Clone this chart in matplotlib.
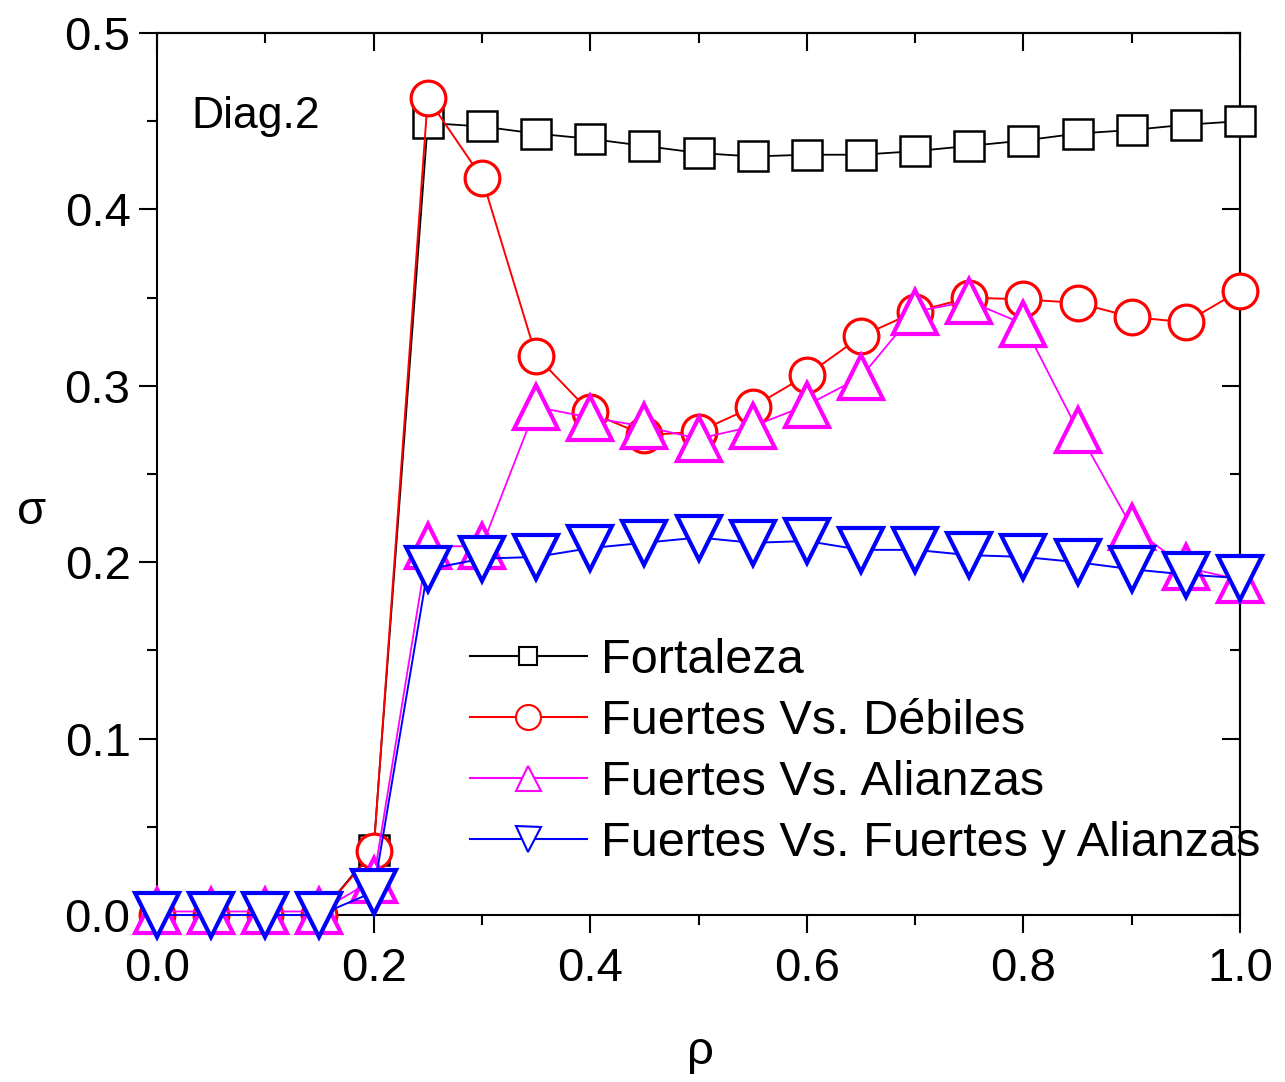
import matplotlib
matplotlib.use("Agg")
import matplotlib.pyplot as plt
from matplotlib.ticker import MultipleLocator, FormatStrFormatter
from matplotlib.lines import Line2D

plt.rcParams['font.family'] = ['Liberation Sans', 'DejaVu Sans']

rho = [0.0, 0.05, 0.1, 0.15, 0.2, 0.25, 0.3, 0.35, 0.4, 0.45, 0.5,
       0.55, 0.6, 0.65, 0.7, 0.75, 0.8, 0.85, 0.9, 0.95, 1.0]

fortaleza = [0.0, 0.0, 0.0, 0.0, 0.037, 0.449, 0.447, 0.443, 0.440, 0.436, 0.432,
             0.430, 0.431, 0.431, 0.433, 0.436, 0.439, 0.443, 0.445, 0.448, 0.450]
fuertes_debiles = [0.0, 0.0, 0.0, 0.0, 0.036, 0.463, 0.418, 0.317, 0.285, 0.272, 0.274,
                   0.288, 0.306, 0.328, 0.342, 0.350, 0.349, 0.347, 0.339, 0.336, 0.354]
fuertes_alianzas = [0.002, 0.002, 0.002, 0.002, 0.020, 0.209, 0.209, 0.288, 0.282, 0.277, 0.270,
                    0.277, 0.289, 0.305, 0.342, 0.348, 0.335, 0.275, 0.220, 0.197, 0.190]
fuertes_fa = [0.0, 0.0, 0.0, 0.0, 0.013, 0.196, 0.202, 0.203, 0.208, 0.211, 0.214,
              0.211, 0.212, 0.207, 0.207, 0.204, 0.203, 0.200, 0.196, 0.193, 0.191]

labels = ["Fortaleza", "Fuertes Vs. Débiles", "Fuertes Vs. Alianzas",
          "Fuertes Vs. Fuertes y Alianzas"]

fig = plt.figure(figsize=(12.85, 10.82), dpi=100)
ax = fig.add_axes([157/1285, 1-915/1082, (1240-157)/1285, (915-33)/1082])

styles = [
    (fortaleza, 'black', 's', 22, 1.8, 1.3),
    (fuertes_debiles, '#ff0000', 'o', 25, 2.3, 1.4),
    (fuertes_alianzas, '#ff00ff', '^', 31, 3.0, 1.3),
    (fuertes_fa, '#0000ff', 'v', 31, 3.0, 1.4),
]
for i, (vals, col, mk, ms, mew, lw) in enumerate(styles):
    ax.plot(rho, vals, color=col, marker=mk, markersize=ms, markeredgewidth=mew,
            markerfacecolor='white', markeredgecolor=col, linewidth=lw,
            clip_on=False, zorder=3 + i)

ax.set_xlim(0, 1.0)
ax.set_ylim(0, 0.5)
ax.xaxis.set_major_locator(MultipleLocator(0.2))
ax.xaxis.set_minor_locator(MultipleLocator(0.1))
ax.yaxis.set_major_locator(MultipleLocator(0.1))
ax.yaxis.set_minor_locator(MultipleLocator(0.05))
ax.xaxis.set_major_formatter(FormatStrFormatter('%.1f'))
ax.yaxis.set_major_formatter(FormatStrFormatter('%.1f'))
ax.tick_params(which='both', direction='out', top=False, right=False,
               width=1.5, labelsize=34)
ax.tick_params(axis='x', pad=10)
ax.tick_params(axis='y', pad=6)
ax.tick_params(which='major', length=13)
ax.tick_params(which='minor', length=7)
for s in ax.spines.values():
    s.set_linewidth(1.5)

secx = ax.secondary_xaxis('top')
secx.xaxis.set_major_locator(MultipleLocator(0.2))
secx.xaxis.set_minor_locator(MultipleLocator(0.1))
secx.tick_params(which='both', direction='in', labeltop=False, width=1.5)
secx.tick_params(which='major', length=13)
secx.tick_params(which='minor', length=7)
secx.spines['top'].set_linewidth(1.5)

secy = ax.secondary_yaxis('right')
secy.yaxis.set_major_locator(MultipleLocator(0.1))
secy.yaxis.set_minor_locator(MultipleLocator(0.05))
secy.tick_params(which='both', direction='in', labelright=False, width=1.5)
secy.tick_params(which='major', length=13)
secy.tick_params(which='minor', length=7)
secy.spines['right'].set_linewidth(1.5)

ax.set_xlabel('ρ', fontsize=34, va='center')
ax.xaxis.set_label_coords((700-157)/1083, (915-1052)/882)
ax.set_ylabel('σ', fontsize=34, rotation=0, va='center', ha='center')
ax.yaxis.set_label_coords((32-157)/1083, (915-512)/882)

ax.text(0.032, 0.892, 'Diag.2', transform=ax.transAxes, fontsize=32,
        ha='left', va='baseline')

handles = []
for (vals, col, mk, ms, mew, lw), lab in zip(styles, labels):
    lms = {'s': 13, 'o': 18, '^': 18, 'v': 18}[mk]
    handles.append(Line2D([], [], color=col, marker=mk, markersize=lms,
                          markeredgewidth=1.5, markerfacecolor='white',
                          markeredgecolor=col, linewidth=1.5, label=lab))
leg = ax.legend(handles=handles, loc='upper left',
                bbox_to_anchor=((470-157)/1083, (915-638)/882),
                frameon=False, fontsize=35, handlelength=2.4,
                handletextpad=0.3, labelspacing=0.33, borderpad=0,
                borderaxespad=0)
leg.set_zorder(10)

fig.savefig('out.png', dpi=100)
